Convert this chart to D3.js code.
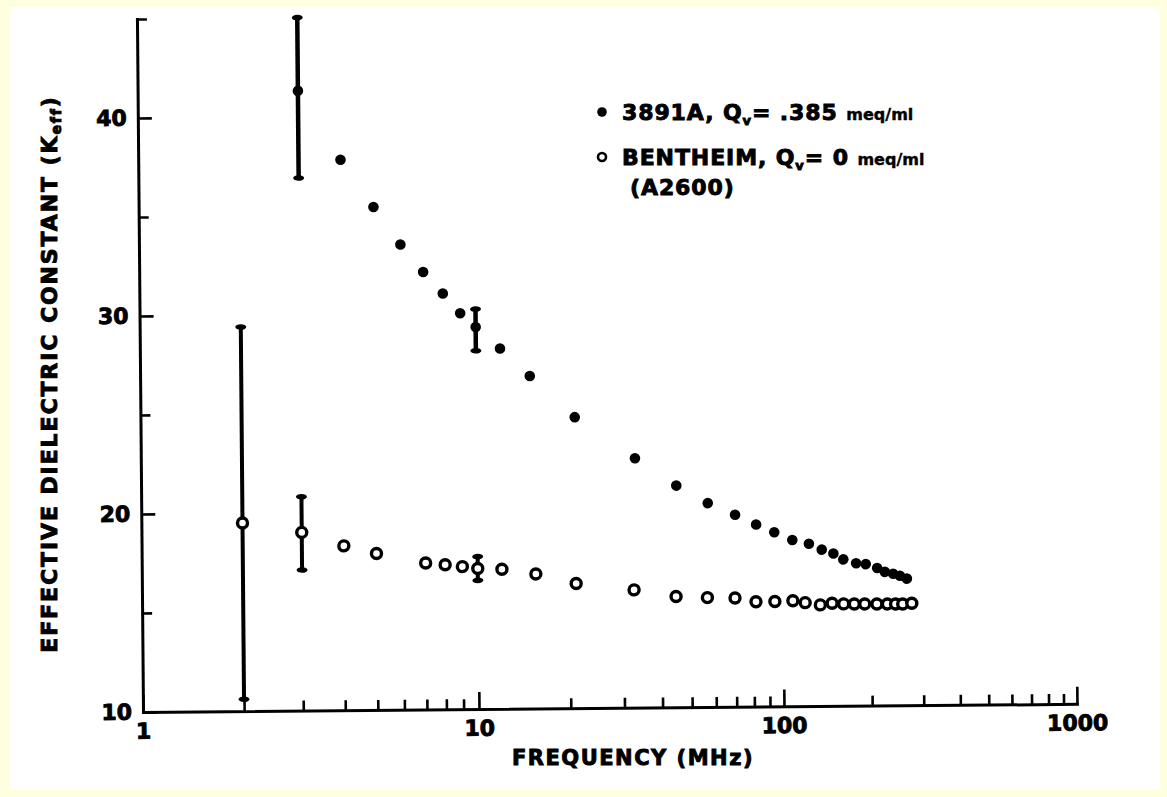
<!DOCTYPE html>
<html><head><meta charset="utf-8">
<script src="https://cdn.jsdelivr.net/npm/d3@7"></script>
<style>
html,body{margin:0;padding:0;background:#ffffe0;}
svg{display:block;}
text{font-family:"DejaVu Sans",sans-serif;font-weight:bold;fill:#000;stroke:#000;stroke-width:0.9px;}
</style></head><body>
<svg id="chart" width="1167" height="797"></svg>
<script>
// ---- data ----
const freqFilled = [3,4,5,6,7,8,9,10,12,15,21,33,45,57,70,82,94,108,123,136,149,161,178,192,210,223,238,251,265];
const kFilled    = [41.3,37.8,35.4,33.5,32.1,31.0,30.0,29.3,28.2,26.8,24.7,22.6,21.2,20.3,19.7,19.2,18.8,18.4,18.2,17.9,17.7,17.4,17.2,17.15,16.95,16.75,16.65,16.55,16.4];
const freqOpen   = [2,3,4,5,7,8,9,10,12,15.5,21,32.5,44.6,56.5,69.6,81.5,94,108,119,134,147,161,175,190,209,227,242,256,275];
const kOpen      = [19.5,19.0,18.3,17.9,17.4,17.3,17.2,17.1,17.05,16.8,16.3,15.95,15.6,15.53,15.5,15.3,15.3,15.33,15.23,15.11,15.19,15.15,15.14,15.14,15.13,15.13,15.12,15.12,15.15];
const errFreqFilled = [3,10];
const errLoFilled   = [36.9,28.1];
const errHiFilled   = [45.0,30.2];
const errFreqOpen   = [2,3,10];
const errLoOpen     = [10.6,17.1,16.5];
const errHiOpen     = [29.4,20.8,17.7];
const xMajor = [1,10,100,1000];
const xTickLabels = ["1","10","100","1000"];
const xMinor = [2,3,4,5,6,7,8,9,20,30,40,50,60,70,80,90,200,300,400,500,600,700,800,900];
const yMajor = [10,20,30,40];
const yTickLabels = ["10","20","30","40"];
const yMinor = [15,25,35,45];
const xTitle = "FREQUENCY (MHz)";
const yTitle = "EFFECTIVE DIELECTRIC CONSTANT (K";
const yTitleSub = "eff";
const legendNames = ["3891A, Q","BENTHEIM, Q"];
const legendQv = [".385","0"];
const legendUnit = "meq/ml";
const legendNote = "(A2600)";

const svg = d3.select("#chart");
svg.append("rect").attr("x",0).attr("y",0).attr("width",1167).attr("height",797).attr("fill","#ffffe0");
svg.append("rect").attr("x",10).attr("y",7).attr("width",1150).attr("height",783).attr("fill","#ffffff");

const x = d3.scaleLog().domain(xMajor).range([143,479,784,1077]);
const y = d3.scaleLinear().domain([10,45]).range([712,19]);

const plot = svg.append("g").attr("transform","rotate(-0.5,143,712)");

function styleAxis(g, fs){
  g.attr("font-family","DejaVu Sans, sans-serif").attr("font-size",fs).attr("font-weight","bold");
  g.selectAll(".domain").attr("stroke","#000").attr("stroke-width",3).attr("stroke-linecap","square");
  g.selectAll(".tick line").attr("stroke","#000").attr("stroke-width",2.6);
}

// x axis
const gxMinor = plot.append("g").attr("transform","translate(0,712)")
  .call(d3.axisBottom(x).tickValues(xMinor).tickFormat(()=>"").tickSize(-10).tickSizeOuter(0));
gxMinor.select(".domain").remove();
styleAxis(gxMinor,22);
const gx = plot.append("g").attr("transform","translate(0,712)")
  .call(d3.axisBottom(x).tickValues(xMajor).tickFormat((d,i)=>xTickLabels[i]).tickSize(-17).tickSizeOuter(0).tickPadding(11));
styleAxis(gx,22);

// y axis
const gyMinor = plot.append("g").attr("transform","translate(143,0)")
  .call(d3.axisLeft(y).tickValues(yMinor).tickFormat(()=>"").tickSize(-10).tickSizeOuter(0));
gyMinor.select(".domain").remove();
styleAxis(gyMinor,22);
const gy = plot.append("g").attr("transform","translate(143,0)")
  .call(d3.axisLeft(y).tickValues(yMajor).tickFormat((d,i)=>yTickLabels[i]).tickSize(-14).tickSizeOuter(0).tickPadding(11));
styleAxis(gy,22);

// error bars
function errBars(freqs, los, his, w){
  const data = freqs.map((f,i)=>({f, lo:los[i], hi:his[i]}));
  plot.append("g").selectAll("line").data(data).join("line")
    .attr("x1",d=>x(d.f)).attr("x2",d=>x(d.f))
    .attr("y1",d=>y(d.lo)).attr("y2",d=>y(d.hi))
    .attr("stroke","#000").attr("stroke-width",w);
  const caps = data.flatMap(d=>[{f:d.f,v:d.lo},{f:d.f,v:d.hi}]);
  plot.append("g").selectAll("ellipse").data(caps).join("ellipse")
    .attr("cx",d=>x(d.f)).attr("cy",d=>y(d.v)).attr("rx",5.5).attr("ry",2.8).attr("fill","#000");
}
errBars(errFreqFilled, errLoFilled, errHiFilled, 4.5);
errBars(errFreqOpen, errLoOpen, errHiOpen, 4);

// points
plot.append("g").selectAll("circle").data(freqFilled.map((f,i)=>[f,kFilled[i]])).join("circle")
  .attr("cx",d=>x(d[0])).attr("cy",d=>y(d[1])).attr("r",5.3).attr("fill","#000");
plot.append("g").selectAll("circle").data(freqOpen.map((f,i)=>[f,kOpen[i]])).join("circle")
  .attr("cx",d=>x(d[0])).attr("cy",d=>y(d[1])).attr("r",5).attr("fill","#fff").attr("stroke","#000").attr("stroke-width",3.4);

// axis titles
svg.append("text").attr("x",633).attr("y",765).attr("text-anchor","middle")
  .attr("font-size",21).attr("letter-spacing",1.5).text(xTitle);
const yt = svg.append("text").attr("transform","translate(57,374) rotate(-90)").attr("text-anchor","middle")
  .attr("font-size",22).attr("letter-spacing",1.9);
yt.append("tspan").text(yTitle);
yt.append("tspan").attr("font-size",14).attr("dy",4).text(yTitleSub);
yt.append("tspan").attr("dy",-4).text(")");

// legend
svg.append("circle").attr("cx",602).attr("cy",112).attr("r",4.8).attr("fill","#000");
svg.append("circle").attr("cx",602).attr("cy",157).attr("r",4).attr("fill","#fff").attr("stroke","#000").attr("stroke-width",2.6);
const baselines = [120,165];
legendNames.forEach((nm,i)=>{
  const t = svg.append("text").attr("x",622).attr("y",baselines[i]).attr("font-size",22).attr("letter-spacing",0.9);
  t.append("tspan").text(nm);
  t.append("tspan").attr("font-size",13).attr("dy",5).text("v");
  t.append("tspan").attr("dy",-5).text("= " + legendQv[i] + " ");
  t.append("tspan").attr("font-size",16).attr("letter-spacing",0).attr("stroke-width",0.4).text(legendUnit);
});
svg.append("text").attr("x",630).attr("y",195).attr("font-size",22).attr("letter-spacing",0.9).text(legendNote);
</script>
</body></html>
